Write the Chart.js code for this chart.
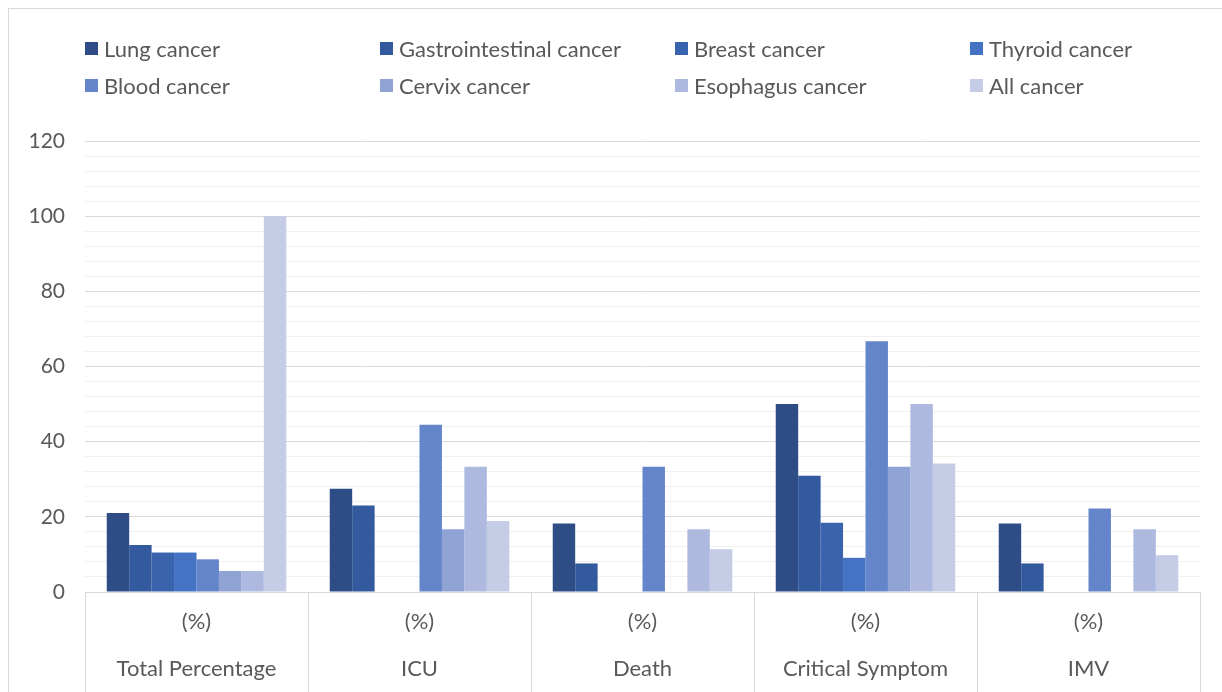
<!DOCTYPE html>
<html>
<head>
<meta charset="utf-8">
<script src="https://cdn.jsdelivr.net/npm/chart.js@4.4.1/dist/chart.umd.min.js"></script>
<style>
    html, body { margin: 0; padding: 0; background: #fff; overflow: hidden; }
    #wrap { position: relative; width: 1222px; height: 692px; }
    #frame { position: absolute; left: 8px; top: 8px; width: 1240px; height: 700px; border: 1px solid #d9d9d9; box-sizing: border-box; }
    #legend { position: absolute; left: 0; top: 0; width: 1222px; }
    .item { position: absolute; display: flex; align-items: center; font-family: Lato, sans-serif; font-size: 22px; color: #595959; white-space: nowrap; }
    .box { width: 13px; height: 13px; margin-right: 6px; }
    canvas { position: absolute; left: 0; top: 0; }
</style>
</head>
<body>
<div id="wrap">
    <div id="frame"></div>
    <canvas id="cancerChart" width="1222" height="692"></canvas>
    <div id="legend"></div>
</div>
<script>
    /* ------- 数据 ------- */
    const categories = ['Total Percentage', 'ICU', 'Death', 'Critical Symptom', 'IMV'];
    const unitLabel = '(%)';
    const seriesNames = ['Lung cancer', 'Gastrointestinal cancer', 'Breast cancer', 'Thyroid cancer',
        'Blood cancer', 'Cervix cancer', 'Esophagus cancer', 'All cancer'];

    const lung = [21, 27.5, 18.2, 50, 18.2];
    const gastro = [12.5, 23, 7.6, 30.9, 7.6];
    const breast = [10.5, 0, 0, 18.4, 0];
    const thyroid = [10.5, 0, 0, 9.1, 0];
    const blood = [8.7, 44.5, 33.3, 66.7, 22.2];
    const cervix = [5.6, 16.7, 0, 33.3, 0];
    const esophagus = [5.6, 33.3, 16.7, 50, 16.7];
    const allCancer = [100, 18.9, 11.4, 34.2, 9.8];

    const seriesValues = [lung, gastro, breast, thyroid, blood, cervix, esophagus, allCancer];
    const colors = ['#2e4d87', '#335a9e', '#3a63ad', '#4472c4', '#6585ca', '#8fa3d4', '#adb9de', '#c5cde6'];

    const yTicks = [0, 20, 40, 60, 80, 100, 120];

    /* ------- 图例 ------- */
    const legendEl = document.getElementById('legend');
    seriesNames.forEach((name, i) => {
        const item = document.createElement('div');
        item.className = 'item';
        item.style.left = (85 + (i % 4) * 295) + 'px';
        item.style.top = (35 + Math.floor(i / 4) * 37) + 'px';
        item.innerHTML = `<span class="box" style="background:${colors[i]}"></span>${name}`;
        legendEl.appendChild(item);
    });

    /* ------- 图表 ------- */
    const textColor = '#595959';
    const font = { family: 'Lato, sans-serif', size: 21 };

    new Chart(document.getElementById('cancerChart'), {
        type: 'bar',
        data: {
            labels: categories.map(c => [unitLabel, c]),
            datasets: seriesNames.map((name, i) => ({
                label: name,
                data: seriesValues[i],
                backgroundColor: colors[i],
                borderWidth: 0,
                categoryPercentage: 0.805,
                barPercentage: 1,
            }))
        },
        options: {
            responsive: false,
            animation: false,
            layout: { padding: { top: 141, right: 22, left: 0, bottom: 0 } },
            plugins: {
                legend: { display: false },
                tooltip: { enabled: false }
            },
            scales: {
                x: {
                    offset: true,
                    border: { color: '#d9d9d9', width: 1 },
                    grid: {
                        offset: true,
                        drawOnChartArea: false,
                        drawTicks: true,
                        tickLength: 100,
                        color: '#d9d9d9',
                    },
                    ticks: {
                        color: textColor,
                        font: { ...font, size: 22, lineHeight: 2.15 },
                        padding: -94,
                        maxRotation: 0,
                    },
                    afterFit: s => { s.height = 100; }
                },
                y: {
                    min: 0,
                    max: 120,
                    border: { display: false },
                    grid: {
                        drawTicks: false,
                        color: c => (yTicks.includes(c.tick.value) ? '#d9d9d9' : '#f0f0f0'),
                    },
                    ticks: {
                        stepSize: 4,
                        autoSkip: false,
                        color: textColor,
                        font: font,
                        padding: 20,
                        callback: v => (yTicks.includes(v) ? v : ''),
                    },
                    afterFit: s => { s.width = 85; }
                }
            }
        }
    });
</script>
</body>
</html>
